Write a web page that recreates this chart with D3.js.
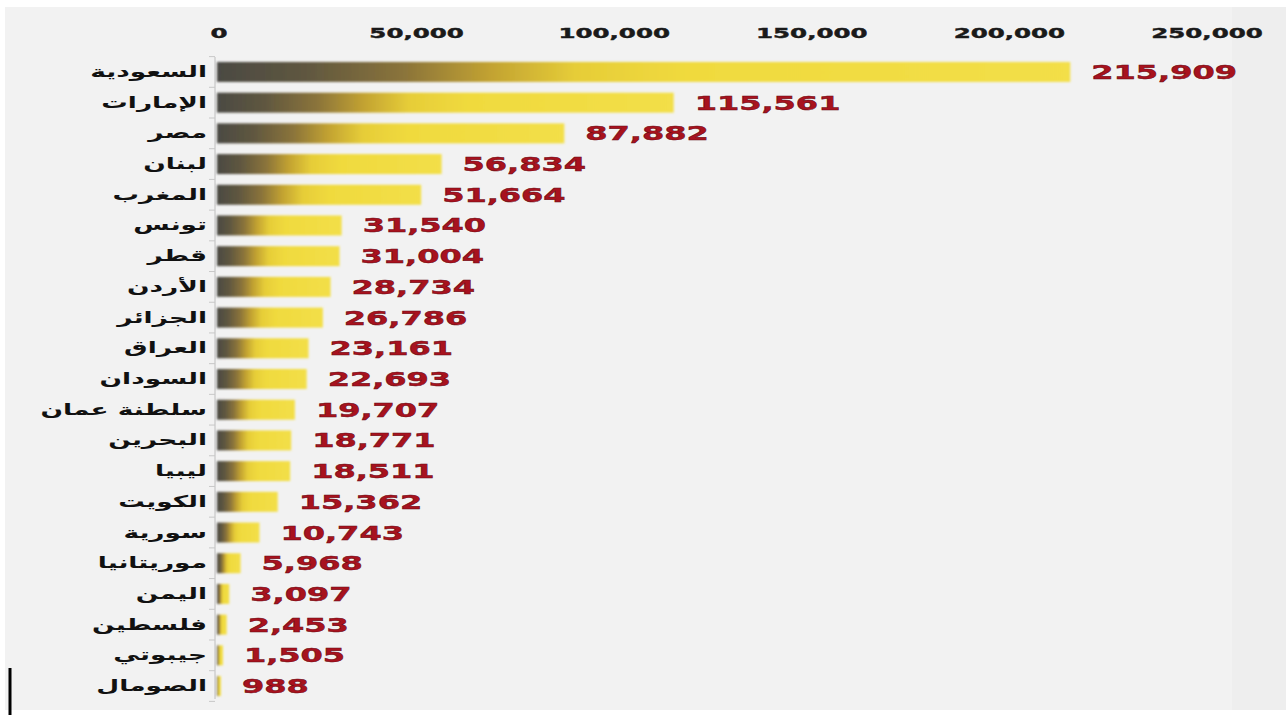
<!DOCTYPE html>
<html>
<head>
<meta charset="utf-8">
<script src="https://cdn.jsdelivr.net/npm/d3@7"></script>
<style>
html,body{margin:0;padding:0;background:#ffffff;}
svg{display:block;}
</style>
</head>
<body>
<svg id="chart" width="1286" height="722"></svg>
<script>
const countries = ["السعودية","الإمارات","مصر","لبنان","المغرب","تونس","قطر","الأردن","الجزائر","العراق","السودان","سلطنة عمان","البحرين","ليبيا","الكويت","سورية","موريتانيا","اليمن","فلسطين","جيبوتي","الصومال"];
const values = [215909,115561,87882,56834,51664,31540,31004,28734,26786,23161,22693,19707,18771,18511,15362,10743,5968,3097,2453,1505,988];
const tickValues = [0,50000,100000,150000,200000,250000];

const data = countries.map((c,i)=>({name:c, value:values[i]}));
const svg = d3.select("#chart");
const fmt = d3.format(",");

// background panel
svg.append("rect").attr("x",5).attr("y",7).attr("width",1281).attr("height",703).attr("fill","#f2f2f2");
svg.append("rect").attr("x",1232).attr("y",7).attr("width",54).attr("height",703).attr("fill","#eeeeee");

const x = d3.scaleLinear().domain([0,250000]).range([217,1205]);
const y = d3.scaleBand().domain(countries).range([56.6,701.4]).paddingInner(0.35).paddingOuter(0.175);

const defs = svg.append("defs");
defs.append("filter").attr("id","soft").attr("x","-5%").attr("y","-30%").attr("width","110%").attr("height","160%")
  .append("feGaussianBlur").attr("stdDeviation",1.2);

const g = defs.append("linearGradient").attr("id","barGrad")
  .attr("x1","0").attr("x2","1").attr("y1","0").attr("y2","0");
[[0,"#4b4a44"],[0.1,"#5e5640"],[0.22,"#8b743a"],[0.32,"#c2a232"],[0.42,"#e6cd38"],[0.55,"#f0da3e"],[1,"#f3df48"]]
  .forEach(s=>g.append("stop").attr("offset",s[0]).attr("stop-color",s[1]));

// axis line and ticks
svg.append("line").attr("x1",215).attr("x2",215).attr("y1",57).attr("y2",699)
  .attr("stroke","#cfcfcf").attr("stroke-width",1.5);
const step = y.step();
const top0 = y(countries[0]) - (step-y.bandwidth())/2;
svg.append("g").selectAll("line").data(d3.range(countries.length+1)).join("line")
  .attr("x1",209).attr("x2",215)
  .attr("y1",i=>top0 + i*step).attr("y2",i=>top0 + i*step)
  .attr("stroke","#c8c8c8").attr("stroke-width",1);

// bars
svg.append("g").attr("filter","url(#soft)").selectAll("rect").data(data).join("rect")
  .attr("x",x(0)).attr("y",d=>y(d.name))
  .attr("width",d=>x(d.value)-x(0)).attr("height",y.bandwidth())
  .attr("fill","url(#barGrad)");

// top tick labels
svg.append("g").selectAll("text").data(tickValues).join("text")
  .attr("transform",d=>`translate(${x(d)+2},38) scale(1.75,1)`)
  .attr("text-anchor","middle")
  .attr("font-family","DejaVu Sans, Verdana, sans-serif")
  .attr("font-weight","bold").attr("font-size",14).attr("fill","#1a1a1a")
  .attr("stroke","#1a1a1a").attr("stroke-width",0.4)
  .text(d=>fmt(d));

// category labels
svg.append("g").selectAll("text").data(data).join("text")
  .attr("transform",d=>`translate(207,${y(d.name)+y.bandwidth()/2+5}) scale(1.65,1)`)
  .attr("text-anchor","end")
  .attr("font-family","DejaVu Sans, sans-serif")
  .attr("font-weight","bold").attr("font-size",16).attr("fill","#111")
  .text(d=>d.name);

// value labels
svg.append("g").selectAll("text").data(data).join("text")
  .attr("transform",d=>`translate(${x(d.value)+21},${y(d.name)+y.bandwidth()/2+7}) scale(1.6,1)`)
  .attr("font-family","DejaVu Sans, Verdana, sans-serif")
  .attr("font-weight","bold").attr("font-size",20).attr("fill","#a8121e")
  .attr("stroke","#6a0c14").attr("stroke-width",0.5)
  .text(d=>fmt(d.value));

// stray vertical mark bottom-left
svg.append("line").attr("x1",10).attr("x2",10).attr("y1",668).attr("y2",715)
  .attr("stroke","#000").attr("stroke-width",3);
</script>
</body>
</html>
